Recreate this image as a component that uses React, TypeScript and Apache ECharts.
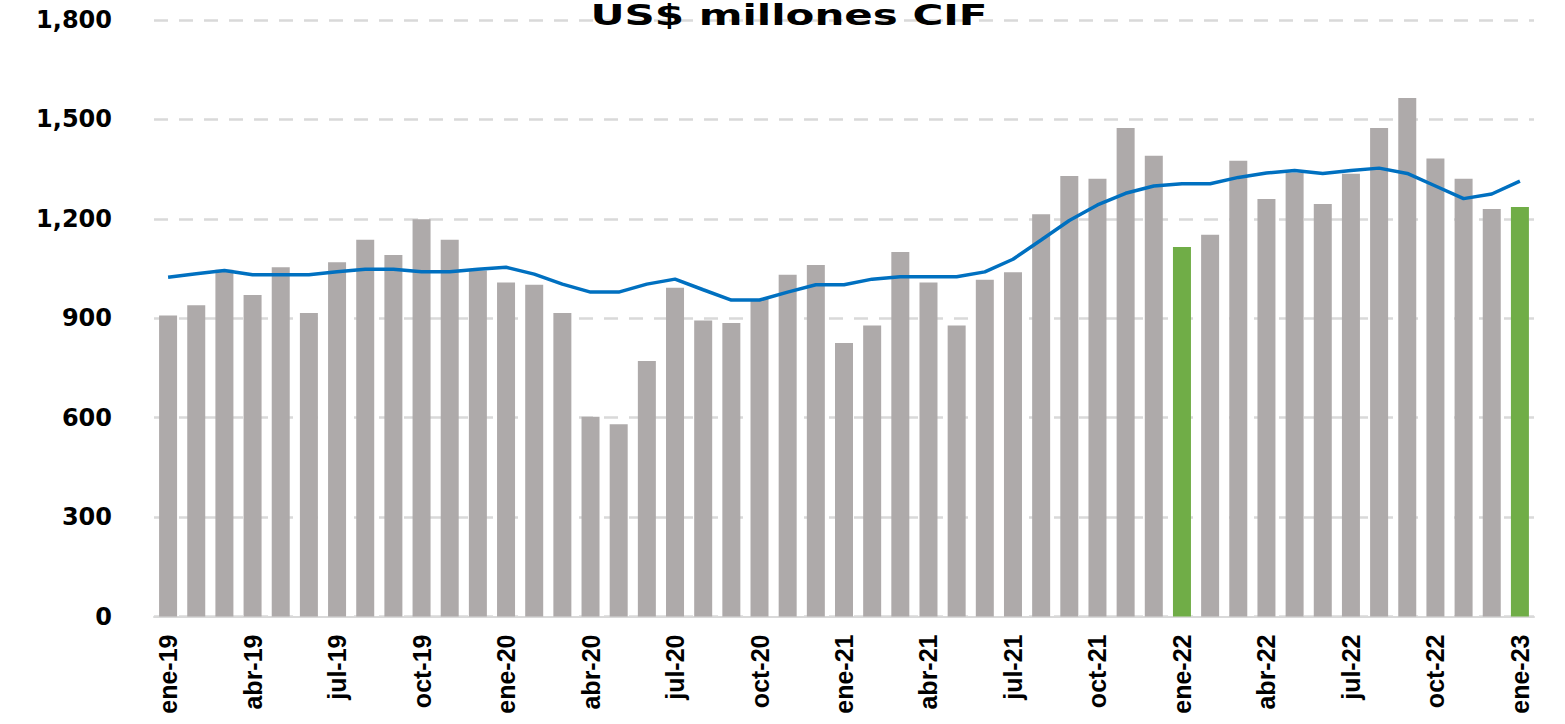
import React, { useEffect, useRef } from "react";
import * as echarts from "echarts";

const months = [
  "ene-19","feb-19","mar-19","abr-19","may-19","jun-19","jul-19","ago-19","sep-19","oct-19","nov-19","dic-19",
  "ene-20","feb-20","mar-20","abr-20","may-20","jun-20","jul-20","ago-20","sep-20","oct-20","nov-20","dic-20",
  "ene-21","feb-21","mar-21","abr-21","may-21","jun-21","jul-21","ago-21","sep-21","oct-21","nov-21","dic-21",
  "ene-22","feb-22","mar-22","abr-22","may-22","jun-22","jul-22","ago-22","sep-22","oct-22","nov-22","dic-22",
  "ene-23",
];

const monthlyValues = [
  908, 939, 1046, 970, 1054, 916, 1069, 1137, 1091, 1199, 1137, 1044,
  1008, 1001, 916, 603, 580, 771, 992, 893, 886, 958, 1031, 1061,
  825, 878, 1100, 1008, 878, 1016, 1039, 1214, 1329, 1321, 1474, 1390,
  1115, 1152, 1375, 1260, 1340, 1245, 1336, 1474, 1565, 1382, 1321, 1230,
  1236,
];

const movingAverage = [
  1024, 1034, 1044, 1031, 1031, 1031, 1040, 1048, 1048, 1040, 1040, 1048,
  1054, 1033, 1003, 979, 979, 1003, 1018, 986, 955, 955, 979, 1001,
  1001, 1018, 1025, 1025, 1025, 1040, 1078, 1136, 1195, 1242, 1277, 1299,
  1306, 1306, 1325, 1338, 1346, 1337, 1346, 1353, 1337, 1299, 1261, 1275,
  1314,
];

const highlighted = ["ene-22", "ene-23"];

const titleText = "US$ millones CIF";

export default function App() {
  const ref = useRef<HTMLDivElement>(null);

  useEffect(() => {
    if (!ref.current) return;
    const chart = echarts.init(ref.current, null, { renderer: "svg" });
    chart.setOption({
      animation: false,
      backgroundColor: "#ffffff",
      grid: {
        left: 154,
        right: 31,
        top: 20,
        bottom: 107.5,
        containLabel: false,
        outerBoundsMode: "none",
      },
      graphic: [
        {
          type: "text",
          x: 789,
          y: 15,
          scaleX: 1.5,
          z: 100,
          style: {
            text: titleText,
            fill: "#000000",
            fontSize: 28,
            fontWeight: "bold",
            fontFamily: "'DejaVu Sans', sans-serif",
            align: "center",
            verticalAlign: "middle",
          },
        },
      ],
      xAxis: {
        type: "category",
        data: months,
        boundaryGap: true,
        axisTick: { show: false },
        axisLine: { show: true, lineStyle: { color: "#d9d9d9", width: 2 } },
        axisLabel: {
          interval: 2,
          rotate: 90,
          margin: 18,
          color: "#000000",
          fontSize: 25,
          fontWeight: "bold",
          fontFamily: "'Liberation Sans', Arial, sans-serif",
        },
        splitLine: { show: false },
      },
      yAxis: {
        type: "value",
        min: 0,
        max: 1800,
        interval: 300,
        axisLine: { show: false },
        axisTick: { show: false },
        axisLabel: {
          margin: 42,
          color: "#000000",
          fontSize: 24,
          fontWeight: "bold",
          fontFamily: "'DejaVu Sans', sans-serif",
          formatter: (v: number) => v.toLocaleString("en-US"),
        },
        splitLine: {
          show: true,
          lineStyle: { color: "#d9d9d9", width: 2.5, type: [14, 11] },
        },
      },
      series: [
        {
          type: "bar",
          barWidth: 18,
          data: monthlyValues.map((v, i) => ({
            value: v,
            itemStyle: {
              color: highlighted.includes(months[i]) ? "#70ad47" : "#aeaaaa",
            },
          })),
          z: 2,
        },
        {
          type: "line",
          data: movingAverage,
          symbol: "none",
          smooth: false,
          lineStyle: { color: "#0070c0", width: 3.5 },
          z: 3,
        },
      ],
    });
    return () => chart.dispose();
  }, []);

  return (
    <div
      ref={ref}
      style={{ position: "fixed", left: 0, top: 0, width: 1565, height: 724 }}
    />
  );
}
